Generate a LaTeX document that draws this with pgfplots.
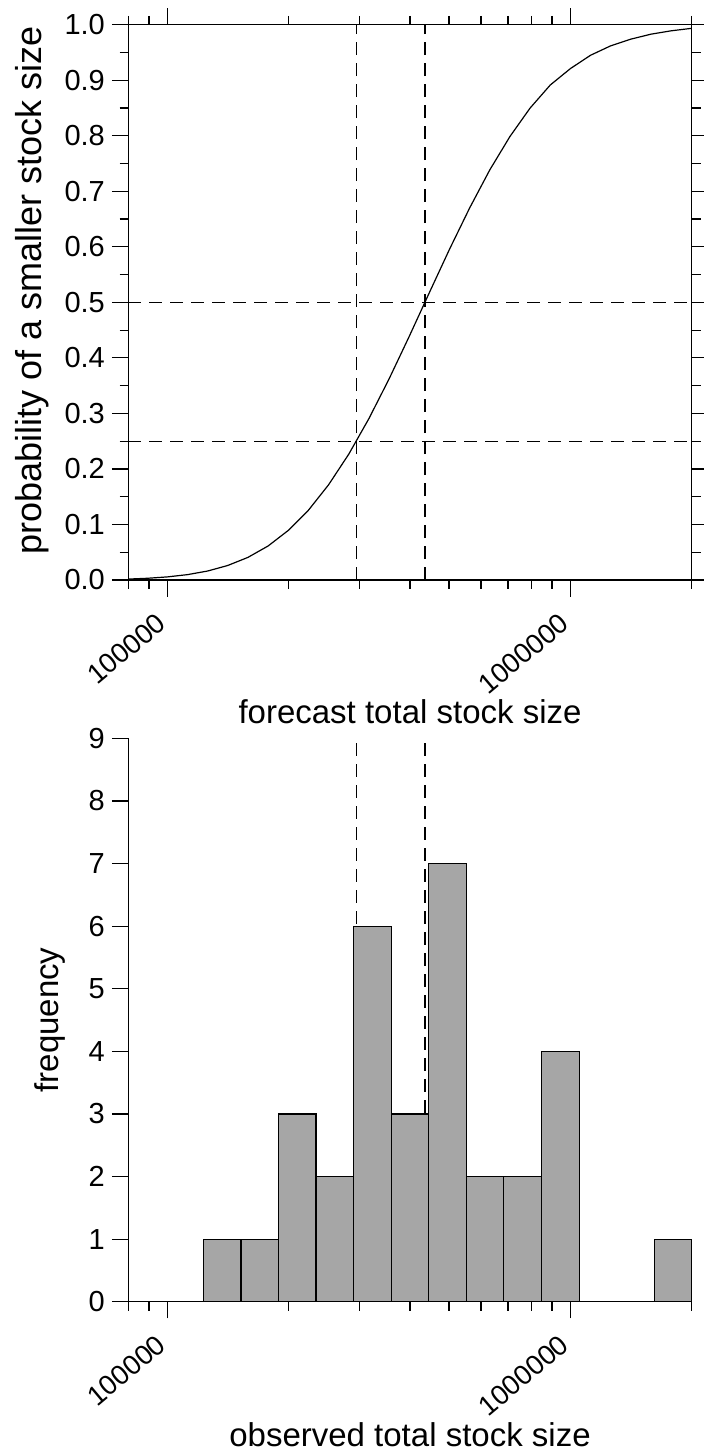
\documentclass[border=0pt]{standalone}
\usepackage{fontspec}
\setmainfont{Liberation Sans}
\usepackage{pgfplots}
\pgfplotsset{compat=1.18}

\definecolor{histgray}{RGB}{166,166,166}

\newcommand{\ticksize}{\fontsize{14.5pt}{17pt}\selectfont}
\newcommand{\xticksize}{\fontsize{13.8pt}{16pt}\selectfont}
\newcommand{\labsize}{\fontsize{16.5pt}{20pt}\selectfont}
\newcommand{\biglabsize}{\fontsize{18pt}{22pt}\selectfont}

\pgfplotsset{
  stockaxis/.style={
    scale only axis,
    width=281.7pt,
    xmin=80000, xmax=2000000,
    xtick={100000,1000000},
    xticklabels={100000,1000000},
    minor xtick={80000,90000,200000,300000,400000,500000,600000,700000,800000,900000,2000000},
    tick align=outside,
    major tick length=8.3pt,
    minor tick length=4.4pt,
    every tick/.style={black, line width=0.6pt},
    axis line style={line width=0.6pt},
    tick label style={font=\ticksize},
    label style={font=\labsize},
    xticklabel style={font=\xticksize, xshift=-2pt, yshift=-10.5pt, rotate=40, anchor=east, inner sep=1pt},
    yticklabel style={anchor=east, inner sep=1pt, xshift=-2.25pt},
    clip=false,
  },
  refline/.style={black, line width=0.6pt, dash pattern=on 6.5pt off 4pt},
}

% cumulative probability of the forecast
\pgfplotstableread{
x        p
80000    0.0017
89125    0.0031
100000   0.0056
112202   0.0097
125893   0.0162
141254   0.0262
158489   0.0408
177828   0.0613
199526   0.0893
223872   0.1257
251189   0.1715
281838   0.2266
316228   0.2906
354813   0.3620
398107   0.4385
446684   0.5175
501187   0.5956
562341   0.6700
630957   0.7386
707946   0.7987
794328   0.8499
891251   0.8914
1000000  0.9210
1122018  0.9450
1258925  0.9620
1412538  0.9740
1584893  0.9830
1778279  0.9890
2000000  0.9935
}\cdftable

% histogram of observed stock sizes (bin edges, counts)
\pgfplotstableread{
x        n
122860   1
152270   1
188710   3
233880   2
289860   6
359250   3
445230   7
551810   2
683880   2
849200   4
1052700  0
1304800  0
1617000  1
2000000  1
}\histtable

\begin{document}
\begin{tikzpicture}
\begin{axis}[
  xmode=log,
  stockaxis,
  /pgf/number format/assume math mode=true,
  at={(64.15pt,-290pt)}, anchor=south west,
  height=277.65pt,
  ymin=0, ymax=1,
  ytick={0,0.1,0.2,0.3,0.4,0.5,0.6,0.7,0.8,0.9,1},
  minor ytick={0.05,0.15,0.25,0.35,0.45,0.55,0.65,0.75,0.85,0.95},
  yticklabel style={/pgf/number format/fixed, /pgf/number format/fixed zerofill, /pgf/number format/precision=1},
  xlabel={forecast total stock size},
  ylabel={probability of a smaller stock size},
  xlabel style={at={(rel axis cs:0.5,0)}, anchor=base, yshift=-71.8pt},
  ylabel style={at={(axis description cs:-0.170,0.5213)}, anchor=center, font=\biglabsize},
]
  \addplot[refline] coordinates {(80000,0.5) (2000000,0.5)};
  \addplot[refline] coordinates {(80000,0.25) (2000000,0.25)};
  \addplot[refline] coordinates {(294000,0) (294000,1)};
  \addplot[refline] coordinates {(435600,0) (435600,1)};
  \addplot[black, line width=0.6pt] table[x=x, y=p] {\cdftable};
\end{axis}

\begin{axis}[
  xmode=log,
  stockaxis,
  /pgf/number format/assume math mode=true,
  at={(64.15pt,-650.85pt)}, anchor=south west,
  height=281.7pt,
  axis x line*=bottom,
  axis y line*=left,
  ymin=0, ymax=9,
  ytick={0,1,2,3,4,5,6,7,8,9},
  xlabel={observed total stock size},
  ylabel={frequency},
  xlabel style={at={(rel axis cs:0.5,0)}, anchor=base, yshift=-72.15pt},
  ylabel style={at={(axis description cs:-0.139,0.5)}, anchor=center},
]
  \addplot[refline] coordinates {(294000,0) (294000,9)};
  \addplot[refline] coordinates {(435600,0) (435600,9)};
  \addplot[ybar interval, fill=histgray, draw=black, line width=0.6pt]
    table[x=x, y=n] {\histtable};
\end{axis}

\pgfresetboundingbox
\path (0,0) rectangle (351.5pt,-726pt);
\end{tikzpicture}
\end{document}
